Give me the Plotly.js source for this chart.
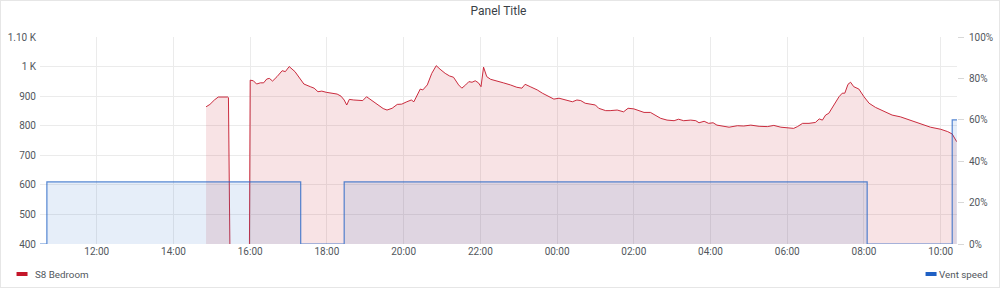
<!DOCTYPE html>
<html>
<head>
<meta charset="utf-8">
<script src="https://cdn.plot.ly/plotly-3.0.1.min.js"></script>
<style>
  html, body { margin: 0; padding: 0; background: #fff; }
  #wrap { position: relative; width: 1000px; height: 288px; }
  #chart { width: 1000px; height: 288px; }
  #frame { position: absolute; left: 0; top: 0; width: 998px; height: 286px; border: 1px solid #e6e6e6; pointer-events: none; }
</style>
</head>
<body>
<div id="wrap"><div id="chart"></div><div id="frame"></div></div>
<script>
// ---- data ----
const D1 = '2023-06-10 ';
const D2 = '2023-06-11 ';

const bedroomTimes = [
  D1+'14:51', D1+'14:57', D1+'15:04', D1+'15:10', D1+'15:25', D1+'15:26', D1+'15:30', D1+'15:58',
  D1+'16:00', D1+'16:05', D1+'16:10', D1+'16:16', D1+'16:21', D1+'16:26', D1+'16:30', D1+'16:35',
  D1+'16:42', D1+'16:50', D1+'16:55', D1+'17:01', D1+'17:10', D1+'17:18', D1+'17:24', D1+'17:34',
  D1+'17:40', D1+'17:46', D1+'17:52', D1+'17:59', D1+'18:08', D1+'18:16', D1+'18:22', D1+'18:27',
  D1+'18:31', D1+'18:35', D1+'18:42', D1+'18:50', D1+'18:56', D1+'19:02', D1+'19:08', D1+'19:15',
  D1+'19:21', D1+'19:28', D1+'19:34', D1+'19:42', D1+'19:50', D1+'19:57', D1+'20:05', D1+'20:12',
  D1+'20:16', D1+'20:21', D1+'20:26', D1+'20:30', D1+'20:37', D1+'20:44', D1+'20:51', D1+'20:57',
  D1+'21:05', D1+'21:12', D1+'21:18', D1+'21:26', D1+'21:31', D1+'21:37', D1+'21:42', D1+'21:47',
  D1+'21:52', D1+'21:57', D1+'22:01', D1+'22:05', D1+'22:10', D1+'22:16', D1+'22:26', D1+'22:36',
  D1+'22:47', D1+'22:57', D1+'23:05', D1+'23:10', D1+'23:18', D1+'23:29', D1+'23:37', D1+'23:45',
  D1+'23:55', D2+'00:03', D2+'00:10', D2+'00:18', D2+'00:24', D2+'00:31', D2+'00:37', D2+'00:44',
  D2+'00:52', D2+'01:00', D2+'01:05', D2+'01:16', D2+'01:23', D2+'01:34', D2+'01:44', D2+'01:51',
  D2+'02:00', D2+'02:08', D2+'02:16', D2+'02:26', D2+'02:34', D2+'02:42', D2+'02:52', D2+'03:03',
  D2+'03:10', D2+'03:18', D2+'03:29', D2+'03:37', D2+'03:42', D2+'03:50', D2+'03:57', D2+'04:04',
  D2+'04:10', D2+'04:16', D2+'04:29', D2+'04:42', D2+'04:52', D2+'05:03', D2+'05:16', D2+'05:29',
  D2+'05:39', D2+'05:50', D2+'06:00', D2+'06:10', D2+'06:16', D2+'06:24', D2+'06:34', D2+'06:44',
  D2+'06:50', D2+'06:55', D2+'07:00', D2+'07:05', D2+'07:13', D2+'07:21', D2+'07:26', D2+'07:30',
  D2+'07:35', D2+'07:39', D2+'07:44', D2+'07:52', D2+'08:00', D2+'08:08', D2+'08:18', D2+'08:31',
  D2+'08:44', D2+'08:57', D2+'09:13', D2+'09:29', D2+'09:44', D2+'10:00', D2+'10:11', D2+'10:18',
  D2+'10:25'
];
const bedroomValues = [
  864, 872, 887, 897, 897, 895, 0, 0,
  954, 952, 941, 945, 945, 958, 960, 951,
  966, 986, 983, 1000, 983, 960, 941, 932,
  927, 915, 917, 913, 910, 907, 900, 887,
  870, 889, 887, 885, 885, 898, 889, 876,
  870, 858, 853, 859, 872, 873, 881, 887,
  881, 904, 924, 921, 938, 977, 1003, 991,
  977, 968, 964, 938, 927, 938, 949, 947,
  952, 945, 932, 998, 966, 957, 952, 945,
  938, 930, 927, 940, 932, 921, 910, 900,
  890, 893, 889, 887, 881, 887, 885, 876,
  873, 870, 859, 851, 851, 853, 847, 859,
  857, 850, 845, 845, 836, 825, 819, 817,
  822, 817, 819, 817, 810, 815, 808, 810,
  802, 800, 795, 800, 799, 802, 798, 797,
  801, 795, 794, 791, 797, 808, 808, 811,
  823, 819, 836, 842, 870, 898, 910, 910,
  940, 947, 932, 924, 898, 876, 862, 850,
  836, 830, 819, 808, 795, 788, 780, 772,
  746
];

const ventTimes = [D1+'10:31', D1+'10:42', D1+'17:19', D1+'18:27', D2+'08:05', D2+'10:18', D2+'10:27'];
const ventValues = [0, 30, 0, 30, 0, 60, 60];

const leftTickVals = [400, 500, 600, 700, 800, 900, 1000, 1100];
const leftTickText = ['400', '500', '600', '700', '800', '900', '1 K', '1.10 K'];
const rightTickVals = [0, 20, 40, 60, 80, 100];
const rightTickText = ['0%', '20%', '40%', '60%', '80%', '100%'];
const xTickVals = [D1+'12:00', D1+'14:00', D1+'16:00', D1+'18:00', D1+'20:00', D1+'22:00',
                   D2+'00:00', D2+'02:00', D2+'04:00', D2+'06:00', D2+'08:00', D2+'10:00'];

const seriesNames = ['S8 Bedroom', 'Vent speed'];
const RED = '#C4162A', BLUE = '#1F60C4';
const FONT = 'Roboto, "Open Sans", sans-serif';
const TXT = '#52575d';

const traces = [
  {
    type: 'scatter', mode: 'lines', name: seriesNames[1],
    x: ventTimes, y: ventValues, yaxis: 'y2',
    line: { color: 'rgba(31,96,196,0.75)', width: 1.2, shape: 'hv' },
    fill: 'tozeroy', fillcolor: 'rgba(31,96,196,0.11)',
    showlegend: false, hoverinfo: 'x+y'
  },
  {
    type: 'scatter', mode: 'lines', name: seriesNames[0],
    x: bedroomTimes, y: bedroomValues, yaxis: 'y',
    line: { color: 'rgba(196,22,42,0.9)', width: 1 },
    fill: 'tozeroy', fillcolor: 'rgba(196,22,42,0.12)',
    showlegend: false, hoverinfo: 'x+y'
  }
];

const layout = {
  width: 1000, height: 288,
  margin: { l: 39.5, r: 43, t: 37, b: 44 },
  paper_bgcolor: 'rgba(0,0,0,0)', plot_bgcolor: 'rgba(0,0,0,0)',
  font: { family: FONT, size: 10, color: TXT },
  title: { text: 'Panel Title', x: 0.5, xref: 'paper', xanchor: 'center', y: 0.962, yref: 'container', yanchor: 'middle', pad: { t: 0, b: 0 },
           font: { family: FONT, size: 12, color: '#3a3f46', weight: 'normal' } },
  showlegend: false,
  xaxis: {
    type: 'date',
    range: [D1+'10:31:15', D2+'10:25:30'],
    tickvals: xTickVals, tickformat: '%H:%M',
    showgrid: true, gridcolor: '#ebebeb', gridwidth: 1,
    zeroline: false, showline: false, ticks: '',
    tickfont: { family: FONT, size: 10, color: TXT }
  },
  yaxis: {
    range: [400, 1100], tickvals: leftTickVals, ticktext: leftTickText,
    showgrid: true, gridcolor: '#ebebeb', gridwidth: 1,
    zeroline: false, showline: false, ticks: '',
    ticklabelstandoff: 3,
    tickfont: { family: FONT, size: 10, color: TXT }
  },
  yaxis2: {
    overlaying: 'y', side: 'right', range: [0, 100],
    tickvals: rightTickVals, ticktext: rightTickText,
    showgrid: false, zeroline: false, showline: false,
    ticks: 'outside', ticklen: 6, tickcolor: '#d8d8d8', tickwidth: 1,
    ticklabelstandoff: 3,
    tickfont: { family: FONT, size: 10, color: TXT }
  },
  shapes: [
    { type: 'line', xref: 'paper', yref: 'paper', x0: -0.0256, x1: -0.0136, y0: -0.145, y1: -0.145,
      line: { color: RED, width: 4 } },
    { type: 'line', xref: 'paper', yref: 'paper', x0: 0.9657, x1: 0.9777, y0: -0.145, y1: -0.145,
      line: { color: BLUE, width: 4 } }
  ],
  annotations: [
    { text: seriesNames[0], xref: 'paper', yref: 'paper', x: -0.0077, y: -0.145, xanchor: 'left', yanchor: 'middle',
      showarrow: false, font: { family: FONT, size: 9.8, color: TXT } },
    { text: seriesNames[1], xref: 'paper', yref: 'paper', x: 1.0364, y: -0.145, xanchor: 'right', yanchor: 'middle',
      showarrow: false, font: { family: FONT, size: 9.8, color: TXT } }
  ]
};

Plotly.newPlot('chart', traces, layout, { displayModeBar: false, staticPlot: true });
</script>
</body>
</html>
